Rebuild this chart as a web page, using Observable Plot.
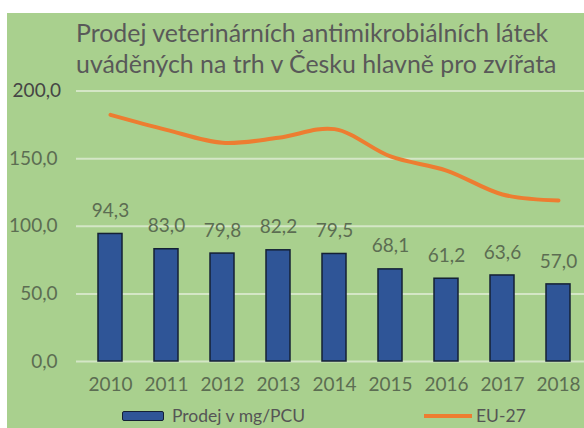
<!DOCTYPE html>
<html>
<head>
<meta charset="utf-8">
<script src="https://cdn.jsdelivr.net/npm/d3@7"></script>
<script src="https://cdn.jsdelivr.net/npm/@observablehq/plot@0.6"></script>
<style>
  html, body { margin: 0; padding: 0; background: #ffffff; }
  #wrap { position: relative; width: 584px; height: 428px; overflow: hidden; font-family: Lato, "Open Sans", sans-serif; }
  #bg { position: absolute; left: 7px; top: 13px; right: 0; bottom: 0; background: #a9d08e; }
  #chart { position: absolute; left: 0; top: 0; }
  #title { position: absolute; left: 76px; top: 17px; color: #595959; font-size: 24.9px; line-height: 31px; white-space: nowrap; }
  #title div { display: block; }
  .leg { position: absolute; color: #555555; font-size: 17.5px; line-height: 22px; top: 405px; white-space: nowrap; }
  #sw1 { position: absolute; left: 122px; top: 411px; width: 40px; height: 8px; background: #2f5597; border: 1.5px solid #142035; border-radius: 2px; }
  #sw2 { position: absolute; left: 424px; top: 414px; width: 48px; height: 4px; background: #ed7d31; }
</style>
</head>
<body>
<div id="wrap">
  <div id="bg"></div>
  <div id="chart"></div>
  <div id="title"></div>
  <div id="sw1"></div>
  <div class="leg" id="lt1" style="left:172px"></div>
  <div id="sw2"></div>
  <div class="leg" id="lt2" style="left:476px"></div>
</div>
<script>
const titleLines = ["Prodej veterinárních antimikrobiálních látek", "uváděných na trh v Česku hlavně pro zvířata"];
const years = [2010, 2011, 2012, 2013, 2014, 2015, 2016, 2017, 2018];
const prodej = [94.3, 83.0, 79.8, 82.2, 79.5, 68.1, 61.2, 63.6, 57.0];
const eu27 = [182.4, 171.3, 161.7, 165.4, 171.8, 151.6, 141.2, 123.5, 119.0];
const yTicks = [0, 50, 100, 150, 200];
const seriesNames = ["Prodej v mg/PCU", "EU-27"];

const loc = d3.formatLocale({decimal: ",", thousands: " ", grouping: [3], currency: ["", " Kč"]});
const fmt = loc.format(".1f");

const barData = years.map((year, i) => ({year, value: prodej[i]}));
const euData = years.map((year, i) => ({year, value: eu27[i]}));

const labelColor = "#5c6d52";
const fs = 19;

const chart = Plot.plot({
  width: 584,
  height: 428,
  marginLeft: 76,
  marginRight: 0,
  marginTop: 90.5,
  marginBottom: 67,
  style: {background: "transparent", fontFamily: "Lato, 'Open Sans', sans-serif", overflow: "visible"},
  x: {type: "band", domain: years, paddingInner: 0.58, paddingOuter: 0.262, align: 0.59, label: null},
  y: {domain: [0, 200], label: null},
  marks: [
    Plot.ruleY(yTicks, {stroke: "#d4e6c6", strokeWidth: 2}),
    Plot.barY(barData, {x: "year", y: "value", fill: "#2f5597", stroke: "#142035", strokeWidth: 1.5}),
    Plot.text(barData, {x: "year", y: "value", text: d => fmt(d.value), dy: -23, fill: labelColor, fontSize: fs}),
    Plot.line(euData, {x: "year", y: "value", stroke: "#ed7d31", strokeWidth: 4, curve: "catmull-rom"}),
    Plot.axisX({tickSize: 0, tickPadding: 16, tickFormat: String, fill: labelColor, fontSize: fs, label: null}),
    Plot.axisY({ticks: yTicks.slice(0, 4), tickSize: 0, tickPadding: 19, tickFormat: fmt, fill: labelColor, fontSize: fs, label: null}),
    Plot.axisY({ticks: yTicks.slice(4), tickSize: 0, tickPadding: 15.5, tickFormat: fmt, fill: "#454545", fontSize: fs, label: null})
  ]
});
document.getElementById("chart").appendChild(chart);

const t = document.getElementById("title");
titleLines.forEach(s => { const d = document.createElement("div"); d.textContent = s; t.appendChild(d); });
document.getElementById("lt1").textContent = seriesNames[0];
document.getElementById("lt2").textContent = seriesNames[1];
</script>
</body>
</html>
